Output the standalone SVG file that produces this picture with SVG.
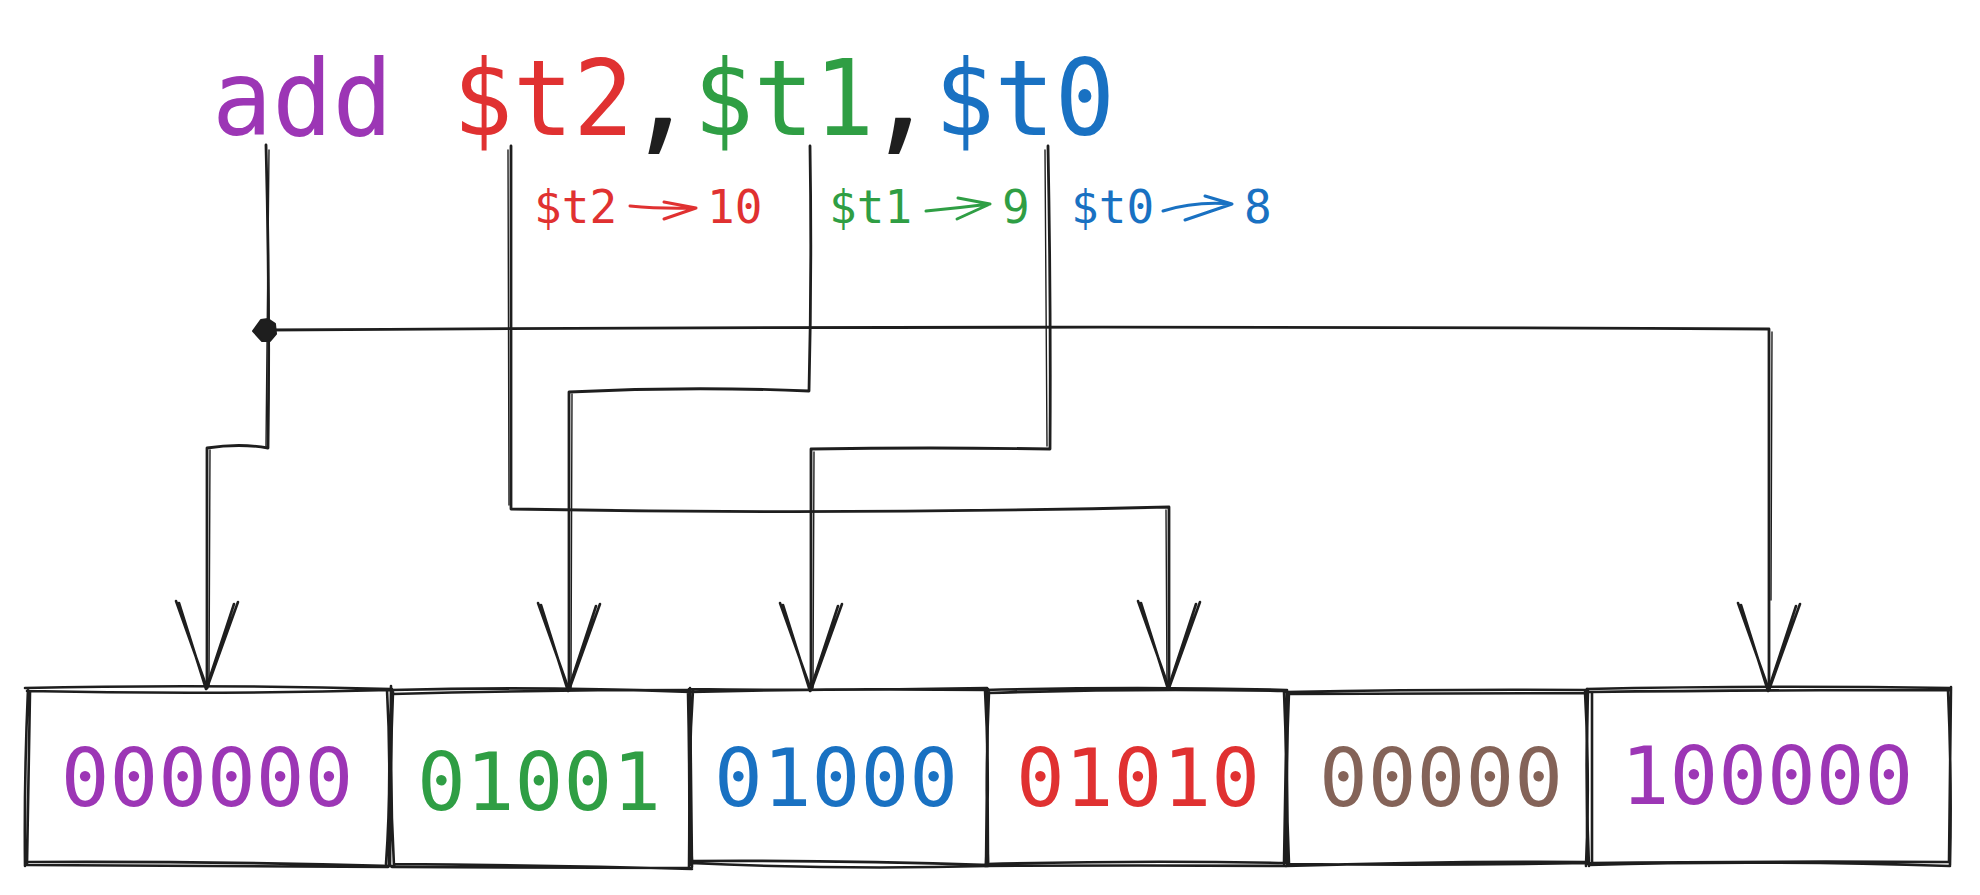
<svg xmlns="http://www.w3.org/2000/svg" width="1980" height="895" viewBox="0 0 1980 895">
<style>
.mono{font-family:"DejaVu Sans Mono","Liberation Mono",monospace}
.t{font-size:100px}
.s{font-size:46px}
.b{font-size:81px;text-anchor:middle}
.purple{fill:#9c36b5}.red{fill:#e03131}.green{fill:#2f9e44}.blue{fill:#1971c2}.brown{fill:#846358}.ink{fill:#1e1e1e}
.comma{fill:#1e1e1e;font-family:"Noto Sans","Open Sans",sans-serif;font-size:140px;font-weight:500}
.box{fill:none;stroke:#1e1e1e;stroke-width:2.6;stroke-linecap:round;stroke-linejoin:round}
.wire{fill:none;stroke:#1e1e1e;stroke-width:2.8;stroke-linecap:round;stroke-linejoin:round}
.wire2{fill:none;stroke:#1e1e1e;stroke-width:1.4;stroke-linecap:round}
.sa{fill:none;stroke-width:3;stroke-linecap:round;stroke-linejoin:round}
</style>
<defs>
<marker id="ah" markerUnits="userSpaceOnUse" orient="auto" markerWidth="120" markerHeight="90" refX="0" refY="0" viewBox="-100 -45 120 90" overflow="visible">
<path d="M-86,-31 L0,0 L-87,31 M-84,-27 L1,1 L-85,28" fill="none" stroke="#1e1e1e" stroke-width="2.6" stroke-linecap="round" stroke-linejoin="round"/>
</marker>
<marker id="dot" markerUnits="userSpaceOnUse" orient="auto" markerWidth="30" markerHeight="30" refX="0" refY="0" viewBox="-15 -15 30 30" overflow="visible">
<path d="M-13,1 L-5,-10 L2,-11 L9,-6 L10,4 L4,11 L-4,11 Z" fill="#1e1e1e" stroke="#1e1e1e" stroke-width="2" stroke-linejoin="round"/>
</marker>
</defs>
<rect width="1980" height="895" fill="#ffffff"/>

<g id="title" transform="translate(0,135) scale(1,1.05) translate(0,-135)">
<text class="mono t" y="135"><tspan class="purple" x="212">add</tspan><tspan class="red" x="452.8">$t2</tspan><tspan class="green" x="693.6">$t1</tspan><tspan class="blue" x="934.4">$t0</tspan></text>
<text class="comma" x="643" y="135">,</text>
<text class="comma" x="883" y="135">,</text>
</g>

<g id="label-t2">
<text class="mono s red" x="534" y="223">$t2</text>
<path class="sa" stroke="#e03131" d="M630,206 Q660,209 696,208 M664,202 L696,208 L664,219"/>
<text class="mono s red" x="707" y="223">10</text>
</g>
<g id="label-t1">
<text class="mono s green" x="829" y="223">$t1</text>
<path class="sa" stroke="#2f9e44" d="M926,211 Q958,208 990,204 M958,198 L990,204 L957,219"/>
<text class="mono s green" x="1002" y="223">9</text>
</g>
<g id="label-t0">
<text class="mono s blue" x="1071" y="223">$t0</text>
<path class="sa" stroke="#1971c2" d="M1163,211 Q1195,201 1232,204 M1205,196 L1232,204 L1185,220"/>
<text class="mono s blue" x="1244" y="223">8</text>
</g>

<g id="box1">
<path class="box" d="M25,688 Q200,684 391,689 M27,691 Q210,695 390,690 M391,686 L389,866 M387,690 Q392,780 386,864 M392,866 Q200,861 29,862 M27,865 L388,867 M25,866 Q24,780 28,689 M30,692 L27,865"/>
<text class="mono b purple" x="207" y="806">000000</text>
</g>
<g id="box2">
<path class="box" d="M391,690 Q540,686 690,692 M393,694 Q540,690 688,690 M690,690 L692,867 M688,693 Q690,780 689,869 M692,869 Q540,865 394,864 M392,867 L690,868 M390,866 L392,689 M393,692 Q389,780 394,866"/>
<text class="mono b green" x="539" y="810">01001</text>
</g>
<g id="box3">
<path class="box" d="M689,689 Q840,691 987,688 M691,692 Q840,688 988,690 M987,688 L988,862 M985,690 Q990,780 986,865 M990,865 Q840,860 692,861 M690,863 Q840,870 988,866 M690,865 L690,688 M693,690 Q687,780 692,862"/>
<text class="mono b blue" x="836" y="806">01000</text>
</g>
<g id="box4">
<path class="box" d="M985,690 Q1140,686 1286,690 M988,693 Q1140,688 1285,691 M1287,690 L1284,864 M1284,692 Q1288,780 1285,863 M1287,863 Q1140,860 987,864 M985,866 Q1140,865 1286,866 M986,866 L988,689 M989,692 Q985,780 988,864"/>
<text class="mono b red" x="1138" y="806">01010</text>
</g>
<g id="box5">
<path class="box" d="M1286,692 Q1440,689 1587,690 M1288,694 L1585,693 M1587,689 L1587,864 M1585,692 Q1590,780 1586,866 M1588,863 Q1440,866 1288,864 M1286,866 Q1440,861 1587,862 M1287,866 L1287,693 M1289,692 Q1285,780 1289,864"/>
<text class="mono b brown" x="1441" y="806">00000</text>
</g>
<g id="box6">
<path class="box" d="M1587,689 Q1760,685 1951,688 M1590,692 Q1760,690 1950,690 M1951,687 L1949,862 M1948,690 Q1952,780 1950,865 M1950,862 Q1760,861 1591,863 M1589,865 Q1760,860 1950,866 M1589,866 Q1585,780 1588,690 M1592,692 L1592,862"/>
<text class="mono b purple" x="1767" y="804">100000</text>
</g>

<g id="connectors">
<path class="wire" marker-end="url(#ah)" d="M266,145 Q270,300 268,448 Q240,443 207,448 L207,688"/>
<path class="wire2" d="M269,150 Q267,300 266,446 M210,450 L209,686"/>
<path class="wire" marker-end="url(#ah)" d="M511,146 L511,509 Q840,515 1169,507 L1169,688"/>
<path class="wire2" d="M508,150 L509,505 M1166,510 L1167,686"/>
<path class="wire" marker-end="url(#ah)" d="M810,146 Q812,270 809,391 Q690,386 569,392 L569,690"/>
<path class="wire2" d="M572,394 L571,688"/>
<path class="wire" marker-end="url(#ah)" d="M1048,146 Q1051,300 1050,449 Q930,447 811,449 L811,690"/>
<path class="wire2" d="M1045,150 L1047,446 M814,452 L813,688"/>
<path class="wire" marker-start="url(#dot)" marker-end="url(#ah)" d="M266,330 Q1020,325 1769,329 L1769,690"/>
<path class="wire2" d="M1772,332 L1771,600"/>
</g>
</svg>
